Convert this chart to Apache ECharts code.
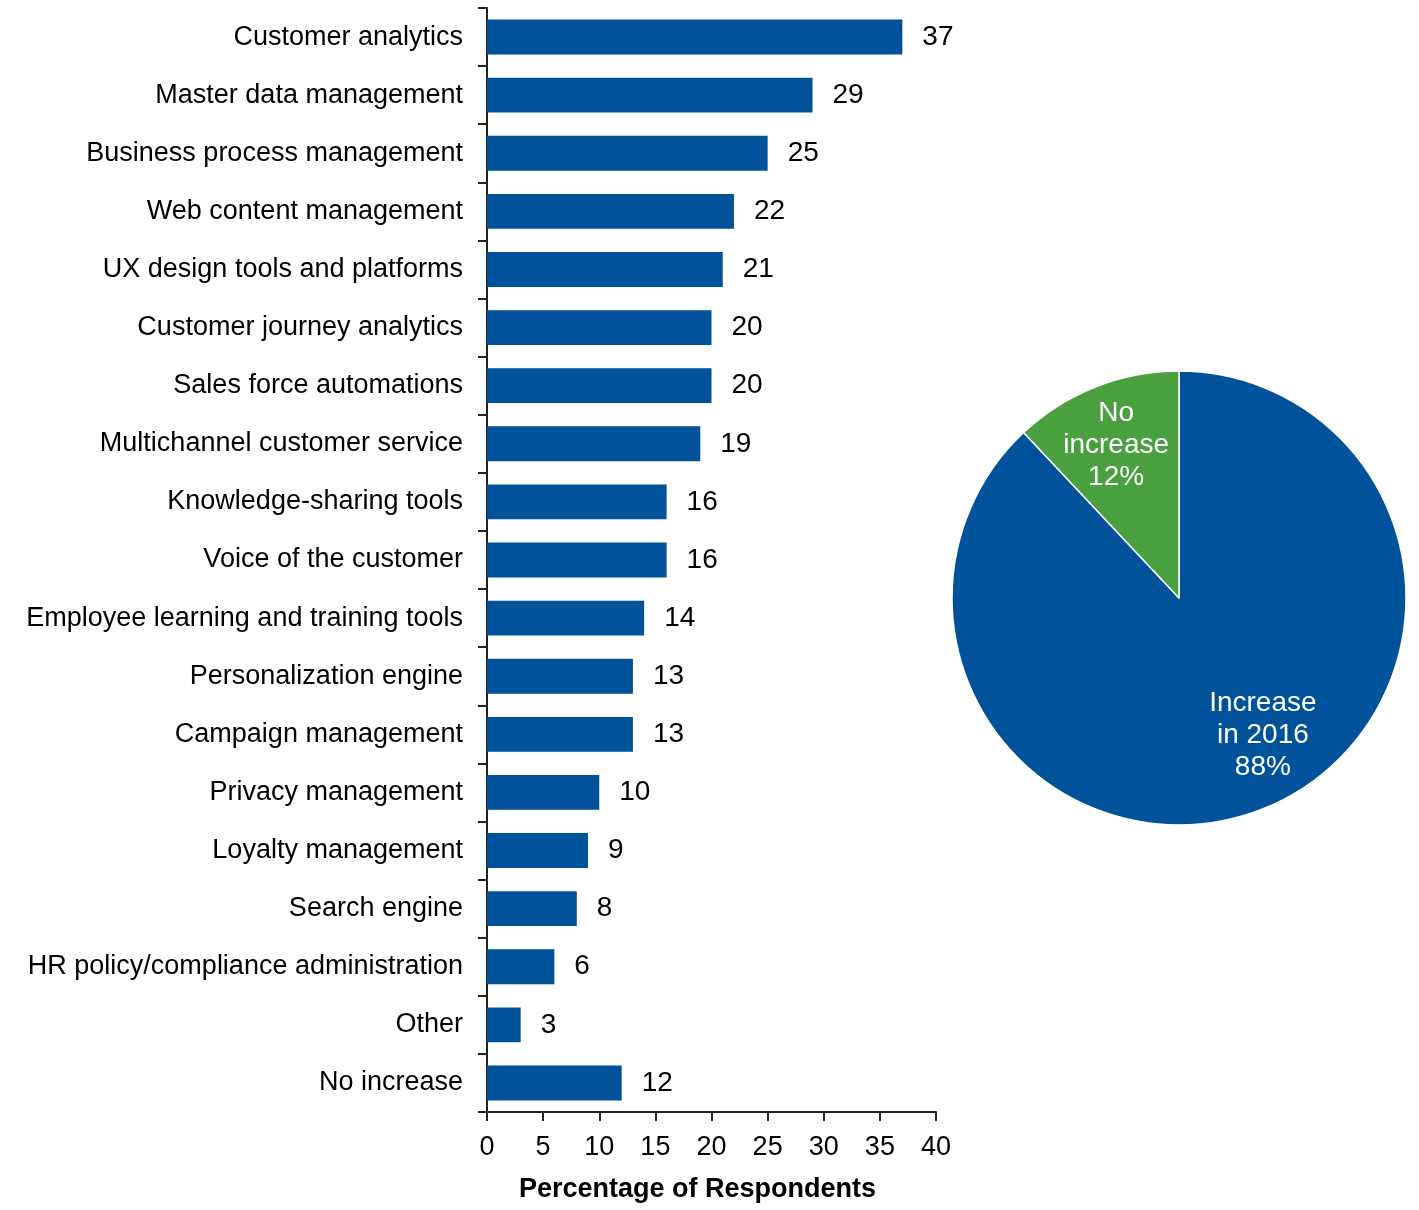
<!DOCTYPE html>
<html lang="en">
<head>
    <meta charset="UTF-8">
    <title>Percentage of Respondents</title>
    <script src="https://cdn.jsdelivr.net/npm/echarts@6/dist/echarts.min.js"></script>
    <style>
        * { margin: 0; padding: 0 }
        html, body { width: 100%; height: 100%; background: #fff }
        #main { width: 1419px; height: 1210px }
    </style>
</head>
<body>
    <div id="main"></div>
    <script type="text/javascript">
        var categories = ['Customer analytics', 'Master data management', 'Business process management',
            'Web content management', 'UX design tools and platforms', 'Customer journey analytics',
            'Sales force automations', 'Multichannel customer service', 'Knowledge-sharing tools',
            'Voice of the customer', 'Employee learning and training tools', 'Personalization engine',
            'Campaign management', 'Privacy management', 'Loyalty management', 'Search engine',
            'HR policy/compliance administration', 'Other', 'No increase'];
        var values = [37, 29, 25, 22, 21, 20, 20, 19, 16, 16, 14, 13, 13, 10, 9, 8, 6, 3, 12];

        var pieNames = ['Increase\nin 2016', 'No\nincrease'];
        var pieValues = [88, 12];

        var blue = '#00529B';
        var green = '#4A9F3F';
        var font = 'Liberation Sans, Arial, sans-serif';

        var myChart = echarts.init(document.getElementById('main'));
        var option = {
            animation: false,
            textStyle: { fontFamily: font },
            grid: { left: 487, right: 483, top: 8, bottom: 98 },
            xAxis: {
                type: 'value',
                min: 0,
                max: 40,
                interval: 5,
                name: 'Percentage of Respondents',
                nameLocation: 'middle',
                nameGap: 64,
                nameTextStyle: { fontSize: 27, fontWeight: 'bold', color: '#000', padding: [0, 28, 0, 0] },
                axisLine: { show: true, lineStyle: { color: '#222', width: 2 } },
                axisTick: { show: true, length: 9, lineStyle: { color: '#222', width: 2 } },
                axisLabel: { fontSize: 27, color: '#000', margin: 22 },
                splitLine: { show: false }
            },
            yAxis: {
                type: 'category',
                inverse: true,
                data: categories,
                axisLine: { show: true, lineStyle: { color: '#222', width: 2 } },
                axisTick: { show: true, length: 9, lineStyle: { color: '#222', width: 2 } },
                axisLabel: { fontSize: 27, color: '#000', margin: 24, padding: [4, 0, 0, 0] }
            },
            series: [{
                type: 'bar',
                data: values,
                barCategoryGap: '40%',
                itemStyle: { color: blue },
                label: {
                    show: true,
                    position: 'right',
                    distance: 20,
                    fontSize: 28,
                    color: '#000',
                    padding: [5, 0, 0, 0]
                }
            }, {
                type: 'pie',
                center: [1179, 598],
                radius: 227,
                startAngle: 90,
                clockwise: true,
                data: pieNames.map(function (n, i) {
                    return { name: n, value: pieValues[i], itemStyle: { color: i === 0 ? blue : green } };
                }),
                itemStyle: { borderColor: '#fff', borderWidth: 1.5 },
                label: {
                    show: true,
                    position: 'inside',
                    fontSize: 28,
                    lineHeight: 32,
                    color: '#fff',
                    formatter: function (p) {
                        return p.name + '\n' + p.value + '%';
                    }
                },
                labelLayout: function (p) {
                    // shift labels to where the original sits
                    return p.dataIndex === 0 ? { dx: 41, dy: 29 } : { dx: -20, dy: -44 };
                },
                emphasis: { disabled: true }
            }]
        };
        myChart.setOption(option);
    </script>
</body>
</html>
